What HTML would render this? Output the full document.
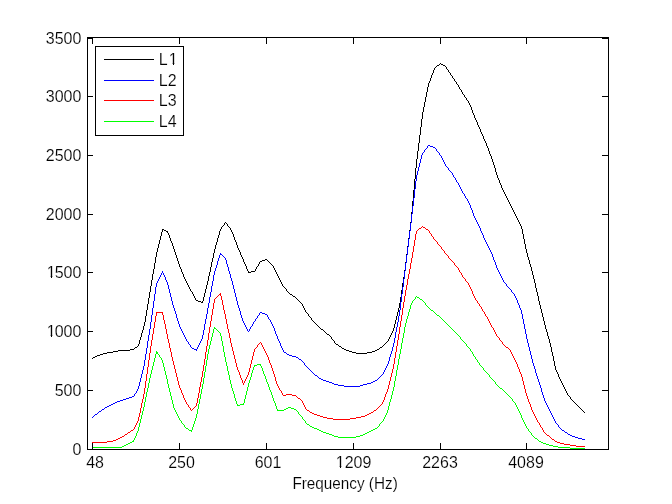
<!DOCTYPE html><html><head><meta charset="utf-8"><title>figure</title><style>
html,body{margin:0;padding:0;background:#fff;}svg{display:block;}
text{font-family:"Liberation Sans",sans-serif;font-size:17.4px;fill:#000;stroke:#fff;stroke-width:0.16px;}
.ax{stroke:#000;stroke-width:1;fill:none;shape-rendering:crispEdges;}
.cv{fill:none;stroke-width:1;shape-rendering:crispEdges;stroke-linejoin:miter;}
</style></head><body>
<svg width="672" height="504" viewBox="0 0 672 504">
<rect x="0" y="0" width="672" height="504" fill="#ffffff"/>
<path class="cv" stroke="#000000" d="M196 300.5h2M164 230.5h2M198 301.5h3M97 355.5h3M251 271.5h4M118 350.5h12M346 350.5h3M375 350.5h2M135 347.5h2M380 347.5h2M262 260.5h3M103 353.5h4M356 353.5h11M130 349.5h4M344 349.5h2M377 349.5h2M293 296.5h2M260 261.5h2M265 259.5h2M113 351.5h5M349 351.5h3M372 351.5h3M166 231.5h2M342 348.5h2M290 294.5h2M95 356.5h2M201 302.5h2M100 354.5h3M162 229.5h2M107 352.5h6M352 352.5h4M367 352.5h5M248 272.5h3M336 344.5h2M93 357.5h2M441 64.5h2M321 329.5h2M437 65.5h2M443 65.5h2M327 334.5h2M339 346.5h2M151.5 280v6M538.5 296v5M258.5 264v2M204.5 293v4M574.5 402v1M426.5 92v5M522.5 229v5M239.5 250v2M185.5 279v2M299.5 301v1M559.5 377v2M156.5 252v5M397.5 312v4M486.5 143v3M535.5 283v5M313.5 321v1M416.5 159v9M499.5 180v3M303.5 306v2M273.5 266v2M413.5 190v11M552.5 352v4M492.5 159v3M246.5 266v3M147.5 304v6M217.5 238v4M500.5 183v2M555.5 366v4M402.5 283v7M418.5 143v8M493.5 162v3M482.5 134v2M142.5 330v3M446.5 67v2M551.5 347v5M208.5 276v5M430.5 78v3M406.5 254v8M496.5 172v3M412.5 201v11M450.5 73v2M489.5 151v3M411.5 212v10M427.5 87v5M507.5 198v2M203.5 297v4M528.5 257v3M422.5 112v7M306.5 312v1M531.5 267v4M580.5 408v1M146.5 310v6M221.5 227v2M410.5 222v8M544.5 321v4M581.5 409v1M417.5 151v8M510.5 204v2M150.5 286v6M513.5 210v2M405.5 262v8M228.5 226v1M155.5 257v6M177.5 258v3M170.5 238v3M478.5 125v2M232.5 232v2M178.5 261v3M524.5 239v5M215.5 245v4M184.5 277v2M212.5 258v4M401.5 290v7M421.5 119v8M181.5 269v3M521.5 226v3M474.5 115v3M558.5 374v3M174.5 249v3M257.5 266v1M540.5 305v4M523.5 234v5M425.5 97v5M207.5 281v4M159.5 240v4M224.5 223v2M396.5 316v4M334.5 341v2M231.5 230v2M149.5 292v6M415.5 168v11M537.5 292v4M554.5 361v5M404.5 270v7M565.5 389v2M216.5 242v3M154.5 263v6M238.5 248v2M557.5 372v2M220.5 229v2M495.5 168v4M141.5 333v4M488.5 148v3M326.5 333v1M145.5 316v6M305.5 310v2M534.5 279v4M211.5 262v5M400.5 297v6M498.5 178v2M302.5 304v2M315.5 323v1M530.5 264v3M491.5 156v3M245.5 264v2M316.5 324v1M434.5 68v2M420.5 127v8M424.5 102v5M195.5 298v2M533.5 275v4M448.5 70v2M282.5 284v2M267.5 260v1M509.5 202v2M304.5 308v2M283.5 286v1M452.5 76v2M547.5 332v4M256.5 267v2M527.5 253v4M308.5 314v2M409.5 230v8M206.5 285v4M383.5 345v1M158.5 244v4M414.5 179v11M526.5 249v4M582.5 410v1M583.5 411v1M153.5 269v5M419.5 135v8M173.5 246v3M403.5 277v6M423.5 107v5M230.5 228v2M218.5 235v3M241.5 255v2M459.5 87v2M144.5 322v4M480.5 129v3M210.5 267v5M169.5 235v3M161.5 232v4M477.5 122v3M223.5 225v1M556.5 370v2M323.5 330v1M148.5 298v6M399.5 303v5M519.5 222v2M237.5 245v3M183.5 274v3M494.5 165v3M484.5 139v2M497.5 175v3M219.5 231v4M490.5 154v2M190.5 289v2M462.5 92v2M564.5 387v2M536.5 288v4M553.5 356v5M139.5 340v4M504.5 192v2M194.5 296v2M532.5 271v4M278.5 276v2M281.5 282v2M408.5 238v8M505.5 194v2M550.5 343v4M160.5 236v4M394.5 324v4M566.5 391v2M214.5 249v4M529.5 260v4M152.5 274v6M549.5 339v4M193.5 294v2M567.5 393v2M179.5 264v3M525.5 244v5M570.5 397v2M439.5 64v1M295.5 297v1M469.5 103v2M398.5 308v4M172.5 243v3M545.5 325v4M296.5 298v1M431.5 75v3M454.5 79v2M269.5 262v1M285.5 288v1M546.5 329v3M476.5 120v2M270.5 263v1M407.5 246v8M176.5 255v3M542.5 313v4M310.5 317v1M168.5 233v2M518.5 220v2M471.5 107v3M515.5 214v2M236.5 242v3M472.5 110v3M393.5 328v3M457.5 84v1M240.5 252v3M186.5 281v2M189.5 287v2M213.5 253v5M485.5 141v2M138.5 344v2M277.5 274v2M247.5 269v2M562.5 383v2M192.5 292v2M464.5 95v2M576.5 404v1M280.5 280v2M503.5 190v2M514.5 212v2M548.5 336v3M331.5 337v2M171.5 241v2M286.5 289v2M287.5 291v1M298.5 300v1M392.5 331v2M312.5 320v1M516.5 216v2M234.5 237v3M541.5 309v4M517.5 218v2M470.5 105v2M481.5 132v2M187.5 283v2M188.5 285v2M561.5 381v2M429.5 81v2M275.5 270v2M433.5 70v3M338.5 345v1M276.5 272v2M248.5 271v1M227.5 224v2M466.5 98v2M391.5 333v2M578.5 406v1M395.5 320v4M157.5 248v4M440.5 63v1M579.5 407v1M473.5 113v2M329.5 335v1M512.5 208v2M140.5 337v3M330.5 336v1M382.5 346v1M428.5 83v4M222.5 226v1M543.5 317v4M143.5 326v4M539.5 301v4M289.5 293v1M487.5 146v2M274.5 268v2M233.5 234v3M314.5 322v1M244.5 262v2M205.5 289v4M162.5 230v2M483.5 136v3M390.5 335v2M560.5 379v2M386.5 342v1M325.5 332v1M501.5 185v3M225.5 222v1M508.5 200v2M226.5 223v1M511.5 206v2M435.5 67v1M468.5 101v2M209.5 272v4M182.5 272v2M175.5 252v3M243.5 259v3M479.5 127v2M137.5 346v1M389.5 337v2M384.5 344v1M445.5 66v1M335.5 343v1M449.5 72v1M506.5 196v2M388.5 339v2M453.5 78v1M268.5 261v1M520.5 224v2M235.5 240v2M333.5 340v1M456.5 82v2M242.5 257v2M575.5 403v1M379.5 348v1M300.5 302v1M279.5 278v2M502.5 188v2M301.5 303v1M447.5 69v1M202.5 301v1M568.5 395v1M307.5 313v1M341.5 347v1M180.5 267v2M451.5 75v1M229.5 227v1M455.5 81v1M311.5 318v2M432.5 73v2M385.5 343v1M458.5 85v2M255.5 269v2M461.5 90v2M563.5 385v2M577.5 405v1M259.5 262v2M134.5 348v1M317.5 325v1M318.5 326v1M465.5 97v1M284.5 287v1M475.5 118v2M569.5 396v1M584.5 412v1M309.5 316v1M167.5 232v1M324.5 331v1M460.5 89v1M191.5 291v1M463.5 94v1M319.5 327v1M467.5 100v1M320.5 328v1M387.5 341v1M272.5 265v1M571.5 399v1M572.5 400v1M297.5 299v1M436.5 66v1M271.5 264v1M292.5 295v1M288.5 292v1M92.5 358v1M332.5 339v1M573.5 401v1"/>
<path class="cv" stroke="#0000ff" d="M296 357.5h2M344 386.5h16M315 375.5h2M326 381.5h3M373 381.5h2M299 359.5h2M319 378.5h2M334 384.5h4M363 384.5h4M289 355.5h3M194 349.5h3M129 397.5h3M123 399.5h3M575 437.5h3M568 434.5h2M430 146.5h3M329 382.5h3M371 382.5h2M287 354.5h2M120 400.5h3M260 312.5h2M126 398.5h3M265 314.5h2M578 438.5h4M562 430.5h2M115 402.5h2M338 385.5h6M360 385.5h3M262 313.5h3M111 404.5h2M332 383.5h2M367 383.5h4M107 406.5h2M323 380.5h3M375 380.5h2M95 414.5h2M292 356.5h4M105 407.5h2M572 436.5h3M565 432.5h2M109 405.5h2M132 396.5h2M102 409.5h2M192 348.5h2M428 145.5h2M117 401.5h3M220 254.5h2M433 147.5h2M99 411.5h2M113 403.5h2M321 379.5h2M582 439.5h3M570 435.5h2M284 352.5h2M480.5 228v3M402.5 287v7M440.5 155v1M217.5 261v4M389.5 357v4M200.5 341v2M150.5 322v7M216.5 265v3M173.5 305v3M393.5 343v4M308.5 368v1M536.5 373v3M279.5 341v2M155.5 287v7M309.5 369v1M141.5 374v4M532.5 359v4M484.5 238v2M487.5 244v2M149.5 329v6M554.5 419v2M421.5 155v4M479.5 226v2M443.5 160v2M235.5 293v4M245.5 325v2M462.5 191v2M406.5 255v8M529.5 347v4M257.5 316v2M447.5 167v1M301.5 360v1M412.5 206v8M416.5 175v6M211.5 286v6M525.5 329v5M145.5 354v6M486.5 242v2M526.5 334v5M227.5 264v3M553.5 417v2M154.5 294v7M511.5 290v2M557.5 424v1M410.5 223v8M396.5 327v5M207.5 308v6M384.5 370v2M465.5 196v2M401.5 294v8M215.5 268v3M212.5 281v5M267.5 315v2M419.5 163v4M405.5 263v8M379.5 377v1M391.5 351v3M202.5 335v4M539.5 382v3M140.5 378v4M475.5 218v2M501.5 276v2M210.5 292v5M179.5 324v3M504.5 282v1M522.5 314v5M542.5 392v3M411.5 214v9M255.5 319v2M543.5 395v3M172.5 301v4M515.5 296v2M471.5 208v2M153.5 301v7M420.5 159v4M521.5 310v4M395.5 332v6M392.5 347v4M206.5 314v5M270.5 320v2M176.5 314v4M424.5 150v2M549.5 409v2M219.5 255v3M251.5 326v1M144.5 360v6M271.5 322v2M503.5 280v2M400.5 302v8M243.5 321v2M404.5 271v8M415.5 181v8M439.5 153v2M169.5 289v4M478.5 224v2M442.5 158v2M236.5 297v4M564.5 431v1M162.5 271v2M148.5 335v6M139.5 382v4M237.5 301v4M277.5 336v3M528.5 343v4M383.5 372v2M485.5 240v2M531.5 355v4M310.5 370v1M168.5 285v4M240.5 311v4M186.5 339v2M311.5 371v1M552.5 415v2M190.5 345v2M464.5 194v2M230.5 274v4M414.5 189v9M303.5 362v1M233.5 285v4M488.5 246v2M147.5 341v7M205.5 319v5M499.5 272v2M214.5 271v4M409.5 231v8M152.5 308v7M423.5 152v1M513.5 293v1M218.5 258v3M250.5 327v2M156.5 283v4M559.5 427v1M394.5 338v5M514.5 294v2M495.5 262v3M467.5 199v2M560.5 428v1M143.5 366v4M524.5 324v5M161.5 273v2M399.5 310v6M254.5 321v1M403.5 279v8M182.5 331v2M520.5 308v2M545.5 401v2M452.5 173v2M175.5 311v3M473.5 213v3M538.5 379v3M146.5 348v6M502.5 278v2M134.5 394v2M474.5 216v2M523.5 319v5M213.5 275v6M178.5 321v3M541.5 388v4M506.5 284v2M171.5 297v4M390.5 354v3M151.5 315v7M138.5 386v3M470.5 205v3M530.5 351v4M298.5 358v1M208.5 303v5M174.5 308v3M481.5 231v2M272.5 324v2M551.5 413v2M239.5 308v3M185.5 337v2M540.5 385v3M413.5 198v8M548.5 407v2M242.5 318v3M533.5 363v3M398.5 316v6M459.5 185v2M456.5 180v2M276.5 334v2M204.5 324v6M142.5 370v4M408.5 239v8M426.5 148v1M167.5 282v3M209.5 297v6M232.5 281v4M160.5 275v2M188.5 342v2M253.5 322v2M94.5 415v1M283.5 350v2M418.5 167v4M249.5 329v2M388.5 361v3M305.5 365v1M137.5 389v2M407.5 247v8M498.5 270v2M397.5 322v5M177.5 318v3M561.5 429v1M417.5 171v4M203.5 330v5M184.5 335v2M451.5 172v1M547.5 405v2M454.5 177v1M181.5 329v2M519.5 305v3M455.5 178v2M241.5 315v3M275.5 331v3M256.5 318v1M546.5 403v2M166.5 280v2M483.5 235v3M238.5 305v3M281.5 346v2M159.5 277v2M457.5 182v1M234.5 289v4M282.5 348v2M458.5 183v2M252.5 324v2M507.5 286v1M490.5 250v2M508.5 287v1M497.5 268v2M231.5 278v3M387.5 364v2M136.5 391v2M493.5 257v3M435.5 148v1M496.5 265v3M518.5 303v2M307.5 367v1M472.5 210v3M259.5 313v2M97.5 413v1M158.5 279v2M274.5 328v3M535.5 369v4M244.5 323v2M165.5 277v3M318.5 377v1M278.5 339v2M386.5 366v2M201.5 339v2M247.5 329v2M445.5 164v2M280.5 343v3M382.5 374v1M446.5 166v1M489.5 248v2M229.5 271v3M492.5 254v3M527.5 339v4M567.5 433v1M313.5 373v1M427.5 146v2M226.5 260v4M422.5 153v2M385.5 368v2M157.5 281v2M438.5 152v1M544.5 398v3M517.5 300v3M537.5 376v3M170.5 293v4M437.5 151v1M273.5 326v2M534.5 366v3M477.5 222v2M246.5 327v2M441.5 156v2M164.5 275v2M555.5 421v2M558.5 425v2M494.5 260v2M425.5 149v1M224.5 257v1M444.5 162v2M225.5 258v2M448.5 168v2M302.5 361v1M286.5 353v1M228.5 267v4M512.5 292v1M101.5 410v1M199.5 343v2M516.5 298v2M469.5 203v2M268.5 317v2M476.5 220v2M163.5 273v2M550.5 411v2M461.5 189v2M198.5 345v2M135.5 393v1M556.5 423v1M468.5 201v2M449.5 170v1M450.5 171v1M304.5 363v2M500.5 274v2M269.5 319v1M183.5 333v2M453.5 175v2M92.5 417v1M482.5 233v2M197.5 347v2M189.5 344v1M378.5 378v1M460.5 187v2M463.5 193v1M466.5 198v1M317.5 376v1M306.5 366v1M505.5 283v1M220.5 253v1M187.5 341v1M312.5 372v1M98.5 412v1M191.5 347v1M491.5 252v2M436.5 149v2M180.5 327v2M380.5 376v1M248.5 331v1M104.5 408v1M93.5 416v1M222.5 255v1M223.5 256v1M314.5 374v1M196.5 350v1M509.5 288v1M377.5 379v1M258.5 315v1M510.5 289v1M381.5 375v1"/>
<path class="cv" stroke="#ff0000" d="M323 417.5h4M356 417.5h5M506 347.5h2M107 441.5h6M555 441.5h2M564 444.5h6M333 419.5h17M576 446.5h9M314 414.5h3M367 414.5h2M128 432.5h2M426 229.5h2M92 442.5h15M557 442.5h3M327 418.5h6M350 418.5h6M570 445.5h6M312 413.5h2M369 413.5h2M219 294.5h2M317 415.5h3M365 415.5h2M298 398.5h2M560 443.5h4M283 395.5h3M292 395.5h4M156 312.5h7M320 416.5h3M361 416.5h4M286 394.5h6M547 435.5h2M423 227.5h2M307 410.5h2M374 410.5h2M419 228.5h2M310 412.5h2M371 412.5h2M118 438.5h2M120 437.5h2M125 434.5h2M116 439.5h2M552 439.5h2M113 440.5h3M122 436.5h2M131 430.5h2M145.5 381v7M411.5 258v5M474.5 296v2M149.5 353v7M223.5 305v5M240.5 375v3M162.5 313v2M172.5 357v4M456.5 266v1M136.5 423v2M247.5 375v2M175.5 369v4M140.5 408v5M433.5 237v2M414.5 240v6M210.5 321v6M230.5 338v5M384.5 397v3M222.5 300v5M400.5 321v6M232.5 347v4M201.5 377v5M388.5 385v4M495.5 332v2M387.5 389v3M212.5 309v6M233.5 351v4M496.5 334v2M448.5 256v2M499.5 338v2M154.5 322v6M477.5 301v2M229.5 333v5M196.5 403v3M206.5 346v6M396.5 346v6M481.5 307v2M410.5 263v6M168.5 339v4M171.5 352v5M405.5 290v6M415.5 234v6M252.5 356v4M437.5 242v2M391.5 373v4M262.5 345v2M144.5 388v6M531.5 407v3M211.5 315v6M401.5 315v6M197.5 398v5M135.5 425v2M524.5 385v4M148.5 360v7M153.5 328v6M488.5 319v2M246.5 377v2M226.5 319v5M517.5 364v3M139.5 413v4M269.5 360v3M395.5 352v6M250.5 364v4M392.5 369v4M454.5 263v2M527.5 396v3M473.5 294v2M413.5 246v6M239.5 372v3M386.5 392v2M404.5 296v6M178.5 381v4M378.5 407v1M225.5 314v5M205.5 352v7M273.5 371v3M184.5 398v2M409.5 269v5M490.5 323v2M181.5 390v3M164.5 320v4M422.5 226v1M209.5 327v6M491.5 325v2M494.5 330v2M447.5 255v1M476.5 300v1M399.5 327v7M242.5 380v3M147.5 367v7M200.5 382v5M151.5 340v6M214.5 299v4M480.5 306v1M458.5 268v2M461.5 273v2M259.5 343v1M174.5 365v4M412.5 252v6M221.5 296v4M462.5 275v2M134.5 427v2M170.5 348v4M143.5 394v5M497.5 336v1M254.5 349v3M479.5 304v2M152.5 334v6M208.5 333v7M530.5 404v3M228.5 329v4M146.5 374v7M385.5 394v3M483.5 311v1M398.5 334v6M213.5 303v6M199.5 387v6M305.5 407v2M465.5 279v2M516.5 362v2M302.5 401v2M403.5 302v6M526.5 393v3M204.5 359v6M227.5 324v5M245.5 379v2M408.5 274v5M394.5 358v6M249.5 368v4M272.5 368v3M167.5 334v5M177.5 377v4M224.5 310v4M389.5 381v4M163.5 315v5M518.5 367v2M275.5 377v4M486.5 316v1M515.5 360v2M397.5 340v6M276.5 381v3M142.5 399v4M166.5 329v5M268.5 357v3M472.5 291v3M198.5 393v5M522.5 377v4M540.5 425v2M402.5 308v7M234.5 355v4M203.5 365v6M393.5 364v5M407.5 279v6M173.5 361v4M220.5 293v1M220.5 295v1M183.5 395v3M176.5 373v4M493.5 328v2M373.5 411v1M231.5 343v4M244.5 381v2M460.5 272v1M300.5 399v1M508.5 348v1M511.5 352v2M464.5 278v1M301.5 400v1M525.5 389v4M169.5 343v5M150.5 346v7M216.5 297v1M380.5 405v1M528.5 399v3M141.5 403v5M529.5 402v2M485.5 314v2M514.5 358v2M179.5 385v3M267.5 355v2M304.5 405v2M264.5 349v2M165.5 324v5M202.5 371v6M539.5 423v2M441.5 247v2M155.5 316v6M237.5 367v3M521.5 374v3M271.5 365v3M503.5 344v1M243.5 383v2M296.5 396v1M236.5 363v4M297.5 397v1M383.5 400v2M406.5 285v5M470.5 287v2M207.5 340v6M542.5 428v2M186.5 402v2M127.5 433v1M251.5 360v4M510.5 350v2M513.5 356v2M263.5 347v2M192.5 409v1M520.5 372v2M451.5 260v1M270.5 363v2M523.5 381v4M428.5 230v1M265.5 351v2M534.5 414v2M429.5 231v2M421.5 227v1M537.5 420v2M266.5 353v2M469.5 285v2M519.5 369v3M382.5 402v2M185.5 400v2M444.5 251v2M390.5 377v4M258.5 344v1M235.5 359v4M156.5 313v3M238.5 370v2M432.5 236v1M137.5 421v2M188.5 405v2M133.5 429v1M425.5 228v1M138.5 417v4M381.5 404v1M532.5 410v2M261.5 343v2M468.5 283v2M533.5 412v2M279.5 388v2M551.5 438v1M475.5 298v2M453.5 262v1M241.5 378v2M416.5 231v3M253.5 352v4M257.5 345v2M278.5 386v2M309.5 411v1M281.5 391v2M550.5 437v1M445.5 253v1M282.5 393v2M446.5 254v1M248.5 372v3M434.5 239v1M215.5 298v1M189.5 407v1M190.5 408v2M376.5 409v1M482.5 309v2M546.5 434v1M274.5 374v3M124.5 435v1M182.5 393v2M277.5 384v2M489.5 321v2M492.5 327v1M193.5 408v1M455.5 265v1M459.5 270v2M280.5 390v1M463.5 277v1M436.5 241v1M303.5 403v2M418.5 229v1M498.5 337v1M502.5 342v2M484.5 312v2M217.5 296v1M487.5 317v2M130.5 431v1M306.5 409v1M457.5 267v1M195.5 406v1M449.5 258v1M478.5 303v1M450.5 259v1M512.5 354v2M438.5 244v1M439.5 245v1M500.5 340v1M501.5 341v1M180.5 388v2M377.5 408v1M256.5 347v1M471.5 289v2M536.5 418v2M431.5 234v2M543.5 430v2M554.5 440v1M452.5 261v1M466.5 281v1M535.5 416v2M430.5 233v1M467.5 282v1M440.5 246v1M549.5 436v1M218.5 295v1M538.5 422v1M379.5 406v1M255.5 348v1M541.5 427v1M417.5 230v1M544.5 432v1M509.5 349v1M545.5 433v1M442.5 249v1M443.5 250v1M504.5 345v1M505.5 346v1M194.5 407v1M187.5 404v1M435.5 240v1M191.5 410v1M260.5 342v1"/>
<path class="cv" stroke="#00ff00" d="M156 352.5h2M535 438.5h2M122 446.5h2M553 446.5h5M570 448.5h15M288 407.5h3M254 365.5h3M420 299.5h2M338 437.5h18M284 409.5h2M294 409.5h2M329 434.5h3M363 434.5h2M312 427.5h2M277 410.5h7M186 428.5h2M314 428.5h3M375 428.5h2M334 436.5h4M356 436.5h4M92 447.5h30M558 447.5h12M214 328.5h2M323 432.5h3M367 432.5h2M417 297.5h2M437 315.5h2M310 426.5h2M317 429.5h2M373 429.5h2M130 442.5h2M541 442.5h2M240 404.5h4M126 444.5h2M546 444.5h3M237 405.5h3M286 408.5h2M291 408.5h3M321 431.5h2M369 431.5h2M500 388.5h2M156 353.5h2M332 435.5h2M360 435.5h3M128 443.5h2M543 443.5h3M326 433.5h3M365 433.5h2M132 441.5h2M539 441.5h2M189 430.5h3M319 430.5h2M371 430.5h2M124 445.5h2M549 445.5h4M307 424.5h2M257 364.5h4M431 310.5h2M160.5 357v1M222.5 341v5M404.5 327v6M161.5 358v2M225.5 357v5M516.5 405v2M153.5 362v4M171.5 396v4M266.5 379v3M202.5 384v5M152.5 366v4M226.5 362v4M517.5 407v2M140.5 419v4M181.5 421v2M392.5 391v4M206.5 360v6M469.5 348v1M164.5 367v4M228.5 371v4M251.5 373v4M396.5 370v6M210.5 341v4M174.5 408v2M177.5 414v2M185.5 427v1M400.5 349v5M483.5 368v2M201.5 389v5M224.5 352v5M303.5 419v1M197.5 409v5M170.5 392v4M413.5 300v1M401.5 343v6M416.5 296v1M205.5 366v6M505.5 392v1M534.5 437v1M148.5 383v5M405.5 323v4M139.5 423v4M391.5 395v4M247.5 387v4M269.5 387v3M395.5 376v5M196.5 414v4M408.5 312v4M134.5 438v2M262.5 368v3M461.5 339v1M519.5 411v2M144.5 402v5M143.5 407v4M193.5 424v3M512.5 399v2M167.5 379v5M378.5 426v1M265.5 376v3M390.5 399v3M435.5 313v1M468.5 347v1M231.5 384v4M273.5 398v3M246.5 391v4M184.5 425v2M173.5 404v4M439.5 316v1M235.5 398v3M272.5 395v3M385.5 415v2M527.5 428v1M221.5 336v5M399.5 354v5M445.5 322v1M147.5 388v4M234.5 394v4M523.5 420v2M403.5 333v5M446.5 323v1M214.5 327v1M515.5 403v2M276.5 406v3M381.5 422v1M452.5 329v1M213.5 329v4M412.5 301v2M472.5 352v2M475.5 357v2M453.5 330v1M200.5 394v5M302.5 417v2M163.5 363v4M526.5 426v2M151.5 370v4M204.5 372v6M192.5 427v3M407.5 316v3M486.5 372v1M306.5 423v1M227.5 366v5M250.5 377v3M460.5 337v2M309.5 425v1M209.5 345v4M166.5 375v4M394.5 381v6M261.5 366v2M159.5 355v2M398.5 359v6M493.5 380v1M199.5 399v5M434.5 312v1M402.5 338v5M275.5 403v3M415.5 297v2M518.5 409v2M172.5 400v4M142.5 411v4M208.5 349v5M237.5 404v1M220.5 333v3M146.5 392v5M301.5 416v1M471.5 351v1M230.5 380v4M176.5 412v2M485.5 371v1M305.5 421v2M389.5 402v4M525.5 424v2M203.5 378v6M169.5 388v4M138.5 427v4M459.5 336v1M430.5 309v1M507.5 394v1M165.5 371v4M155.5 354v4M268.5 384v3M508.5 395v1M249.5 380v3M198.5 404v5M470.5 349v2M195.5 418v3M473.5 354v2M514.5 402v1M223.5 346v6M474.5 356v1M264.5 374v2M236.5 401v3M154.5 358v4M397.5 365v5M245.5 395v4M248.5 383v4M429.5 308v1M440.5 317v1M194.5 421v3M528.5 429v2M529.5 431v1M441.5 318v1M133.5 440v1M271.5 392v3M522.5 418v2M212.5 333v4M411.5 303v2M495.5 382v2M150.5 374v4M233.5 391v3M377.5 427v1M244.5 399v4M393.5 387v4M496.5 384v1M229.5 375v5M448.5 325v1M477.5 360v2M406.5 319v4M207.5 354v6M384.5 417v2M422.5 300v1M145.5 397v5M410.5 305v4M253.5 367v3M149.5 378v5M274.5 401v2M137.5 431v2M304.5 420v1M524.5 422v2M409.5 309v3M383.5 419v2M270.5 390v2M141.5 415v4M521.5 415v3M462.5 340v1M211.5 337v4M494.5 381v1M388.5 406v4M168.5 384v4M232.5 388v3M463.5 341v1M447.5 324v1M436.5 314v1M216.5 329v1M454.5 331v1M263.5 371v3M502.5 389v1M455.5 332v1M252.5 370v3M243.5 403v1M487.5 373v1M136.5 433v3M380.5 423v1M387.5 410v3M476.5 359v1M296.5 410v1M425.5 303v2M480.5 365v1M531.5 433v2M509.5 396v1M277.5 409v1M479.5 363v2M498.5 386v1M423.5 301v1M424.5 302v1M135.5 436v2M178.5 416v2M379.5 424v2M530.5 432v1M442.5 319v1M490.5 377v1M386.5 413v2M191.5 431v1M497.5 385v1M537.5 439v1M449.5 326v1M478.5 362v1M298.5 412v2M538.5 440v1M218.5 331v1M382.5 421v1M299.5 414v1M254.5 366v1M457.5 334v1M419.5 298v1M156.5 351v1M464.5 342v1M217.5 330v1M456.5 333v1M427.5 306v1M489.5 375v2M532.5 435v1M504.5 391v1M533.5 436v1M188.5 429v1M511.5 398v1M481.5 366v1M179.5 418v2M426.5 305v1M503.5 390v1M482.5 367v1M180.5 420v1M162.5 360v3M488.5 374v1M414.5 299v1M466.5 344v2M267.5 382v2M297.5 411v1M467.5 346v1M499.5 387v1M444.5 321v1M520.5 413v2M260.5 365v1M510.5 397v1M158.5 354v1M492.5 379v1M433.5 311v1M182.5 423v1M300.5 415v1M175.5 410v2M183.5 424v1M443.5 320v1M491.5 378v1M465.5 343v1M506.5 393v1M450.5 327v1M513.5 401v1M451.5 328v1M219.5 332v1M484.5 370v1M428.5 307v1M458.5 335v1"/>
<rect class="ax" x="87.5" y="37.5" width="521" height="412"/>
<line class="ax" x1="92.5" y1="449" x2="92.5" y2="443"/>
<line class="ax" x1="92.5" y1="37" x2="92.5" y2="44"/>
<line class="ax" x1="179.5" y1="449" x2="179.5" y2="443"/>
<line class="ax" x1="179.5" y1="37" x2="179.5" y2="44"/>
<line class="ax" x1="266.5" y1="449" x2="266.5" y2="443"/>
<line class="ax" x1="266.5" y1="37" x2="266.5" y2="44"/>
<line class="ax" x1="353.5" y1="449" x2="353.5" y2="443"/>
<line class="ax" x1="353.5" y1="37" x2="353.5" y2="44"/>
<line class="ax" x1="440.5" y1="449" x2="440.5" y2="443"/>
<line class="ax" x1="440.5" y1="37" x2="440.5" y2="44"/>
<line class="ax" x1="526.5" y1="449" x2="526.5" y2="443"/>
<line class="ax" x1="526.5" y1="37" x2="526.5" y2="44"/>
<line class="ax" x1="87" y1="449.5" x2="93" y2="449.5"/>
<line class="ax" x1="609" y1="449.5" x2="602" y2="449.5"/>
<line class="ax" x1="87" y1="390.5" x2="93" y2="390.5"/>
<line class="ax" x1="609" y1="390.5" x2="602" y2="390.5"/>
<line class="ax" x1="87" y1="331.5" x2="93" y2="331.5"/>
<line class="ax" x1="609" y1="331.5" x2="602" y2="331.5"/>
<line class="ax" x1="87" y1="272.5" x2="93" y2="272.5"/>
<line class="ax" x1="609" y1="272.5" x2="602" y2="272.5"/>
<line class="ax" x1="87" y1="214.5" x2="93" y2="214.5"/>
<line class="ax" x1="609" y1="214.5" x2="602" y2="214.5"/>
<line class="ax" x1="87" y1="155.5" x2="93" y2="155.5"/>
<line class="ax" x1="609" y1="155.5" x2="602" y2="155.5"/>
<line class="ax" x1="87" y1="96.5" x2="93" y2="96.5"/>
<line class="ax" x1="609" y1="96.5" x2="602" y2="96.5"/>
<line class="ax" x1="87" y1="38.5" x2="93" y2="38.5"/>
<line class="ax" x1="609" y1="38.5" x2="602" y2="38.5"/>
<rect class="ax" x="95.5" y="46.5" width="88" height="89" style="fill:#fff"/>
<line class="cv" stroke="#000000" x1="104" y1="59.5" x2="154" y2="59.5"/>
<line class="cv" stroke="#0000ff" x1="104" y1="80.5" x2="154" y2="80.5"/>
<line class="cv" stroke="#ff0000" x1="104" y1="100.5" x2="154" y2="100.5"/>
<line class="cv" stroke="#00ff00" x1="104" y1="121.5" x2="154" y2="121.5"/>
<g opacity="0.999">
<text transform="translate(81.40,455.00) scale(0.920,1)" text-anchor="end" id="y0">0</text>
<text transform="translate(81.40,396.00) scale(0.920,1)" text-anchor="end" id="y500">500</text>
<text transform="translate(46.79,337.00) scale(0.920,1)" text-anchor="start" id="y1000a">1</text>
<text transform="translate(81.40,337.00) scale(0.920,1)" text-anchor="end" id="y1000">000</text>
<text transform="translate(46.79,278.00) scale(0.920,1)" text-anchor="start" id="y1500a">1</text>
<text transform="translate(81.40,278.00) scale(0.920,1)" text-anchor="end" id="y1500">500</text>
<text transform="translate(81.40,220.00) scale(0.920,1)" text-anchor="end" id="y2000">2000</text>
<text transform="translate(81.40,161.00) scale(0.920,1)" text-anchor="end" id="y2500">2500</text>
<text transform="translate(81.40,102.00) scale(0.920,1)" text-anchor="end" id="y3000">3000</text>
<text transform="translate(81.40,44.00) scale(0.920,1)" text-anchor="end" id="y3500">3500</text>
<text transform="translate(86.20,468.00) scale(0.920,1)" text-anchor="start" id="x48">48</text>
<text transform="translate(168.20,468.00) scale(0.920,1)" text-anchor="start" id="x250">250</text>
<text transform="translate(254.70,468.00) scale(0.920,1)" text-anchor="start" id="x601">601</text>
<text transform="translate(335.75,468.00) scale(0.920,1)" text-anchor="start" id="x1209">1209</text>
<text transform="translate(422.20,468.00) scale(0.920,1)" text-anchor="start" id="x2263">2263</text>
<text transform="translate(508.20,468.00) scale(0.920,1)" text-anchor="start" id="x4089">4089</text>
<text transform="translate(292.40,489.20) scale(0.900,1)" text-anchor="start" id="xlab" style="font-size:17px">Frequency (Hz)</text>
<text transform="translate(158.80,65.00) scale(0.920,1)" text-anchor="start" id="L1" dx="0 1.09">L1</text>
<text transform="translate(158.80,86.00) scale(0.920,1)" text-anchor="start" id="L2">L2</text>
<text transform="translate(158.80,106.00) scale(0.920,1)" text-anchor="start" id="L3">L3</text>
<text transform="translate(158.80,127.00) scale(0.920,1)" text-anchor="start" id="L4">L4</text>
</g>
<rect x="47" y="277" width="4" height="1" fill="#fff" shape-rendering="crispEdges"/>
<rect x="52" y="277" width="4" height="1" fill="#fff" shape-rendering="crispEdges"/>
<rect x="47" y="276" width="3" height="1" fill="#fff" shape-rendering="crispEdges"/>
<rect x="53" y="276" width="3" height="1" fill="#fff" shape-rendering="crispEdges"/>
<rect x="47" y="336" width="4" height="1" fill="#fff" shape-rendering="crispEdges"/>
<rect x="52" y="336" width="4" height="1" fill="#fff" shape-rendering="crispEdges"/>
<rect x="47" y="335" width="3" height="1" fill="#fff" shape-rendering="crispEdges"/>
<rect x="53" y="335" width="3" height="1" fill="#fff" shape-rendering="crispEdges"/>
<rect x="336" y="467" width="4" height="1" fill="#fff" shape-rendering="crispEdges"/>
<rect x="341" y="467" width="4" height="1" fill="#fff" shape-rendering="crispEdges"/>
<rect x="336" y="466" width="3" height="1" fill="#fff" shape-rendering="crispEdges"/>
<rect x="342" y="466" width="3" height="1" fill="#fff" shape-rendering="crispEdges"/>
<rect x="169" y="64" width="4" height="1" fill="#fff" shape-rendering="crispEdges"/>
<rect x="174" y="64" width="4" height="1" fill="#fff" shape-rendering="crispEdges"/>
<rect x="169" y="63" width="3" height="1" fill="#fff" shape-rendering="crispEdges"/>
<rect x="175" y="63" width="3" height="1" fill="#fff" shape-rendering="crispEdges"/>
</svg></body></html>
